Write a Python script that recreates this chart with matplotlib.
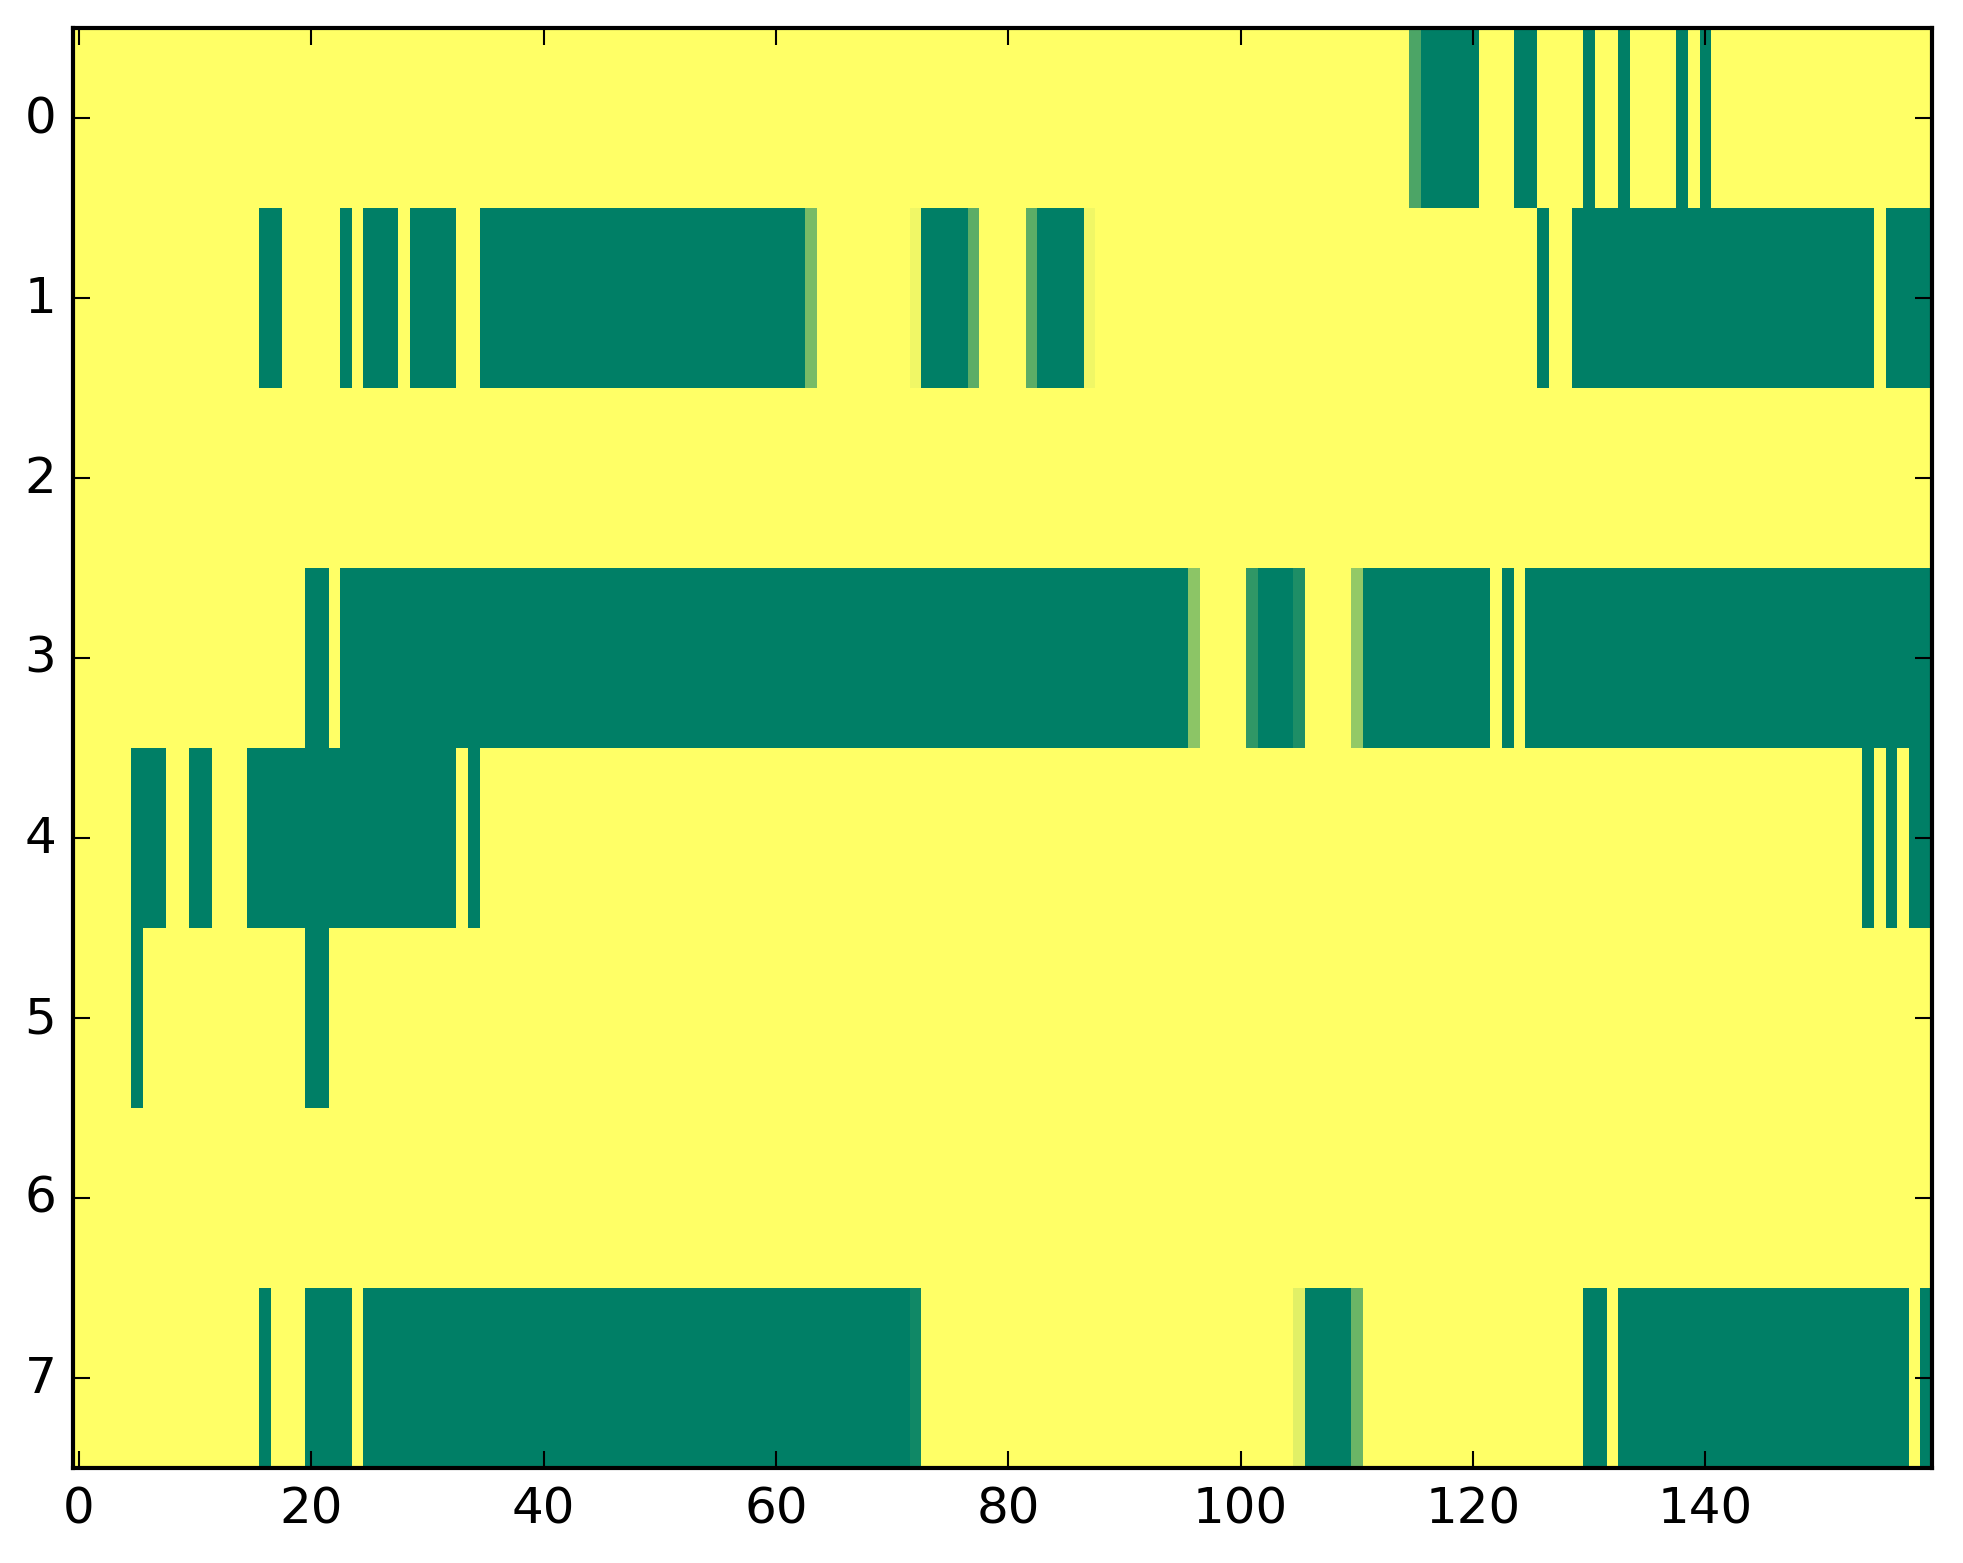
import numpy as np
import matplotlib
matplotlib.use("Agg")
import matplotlib.pyplot as plt

plt.style.use('classic')

n_cols = 160
row_labels = [0, 1, 2, 3, 4, 5, 6, 7]

# runs per row: (first column, last column, value)
row0 = [(115, 115, 0.70), (116, 120, 1.0), (124, 125, 1.0), (130, 130, 1.0),
        (133, 133, 1.0), (138, 138, 1.0), (140, 140, 1.0)]
row1 = [(16, 17, 1.0), (23, 23, 1.0), (25, 27, 1.0), (29, 32, 1.0), (35, 62, 1.0),
        (63, 63, 0.53), (72, 72, 0.06), (73, 76, 1.0), (77, 77, 0.64),
        (82, 82, 0.64), (83, 86, 1.0), (87, 87, 0.06), (126, 126, 1.0),
        (129, 154, 1.0), (156, 159, 1.0)]
row2 = []
row3 = [(20, 21, 1.0), (23, 95, 1.0), (96, 96, 0.45), (101, 101, 0.81),
        (102, 104, 1.0), (105, 105, 0.88), (110, 110, 0.42), (111, 121, 1.0),
        (123, 123, 1.0), (125, 159, 1.0)]
row4 = [(5, 7, 1.0), (10, 11, 1.0), (15, 32, 1.0), (34, 34, 1.0),
        (154, 154, 1.0), (156, 156, 1.0), (158, 159, 1.0)]
row5 = [(5, 5, 1.0), (20, 21, 1.0)]
row6 = []
row7 = [(16, 16, 1.0), (20, 23, 1.0), (25, 71, 1.0), (72, 72, 0.93),
        (105, 105, 0.12), (106, 109, 1.0), (110, 110, 0.58), (130, 131, 1.0),
        (133, 157, 1.0), (159, 159, 1.0)]

rows = [row0, row1, row2, row3, row4, row5, row6, row7]
data = np.zeros((len(rows), n_cols))
for r, runs in enumerate(rows):
    for a, b, v in runs:
        data[r, a:b + 1] = v

fig = plt.figure(figsize=(1963 / 300, 1564 / 300), dpi=300, facecolor='white')
ax = fig.add_axes([73 / 1963, 1 - 1469 / 1564, (1932 - 73) / 1963, (1469 - 29) / 1564])
ax.imshow(data, cmap='summer_r', vmin=0, vmax=1, aspect='auto', interpolation='nearest')
ax.set_yticks(range(len(row_labels)))
ax.set_yticklabels([str(v) for v in row_labels])
ax.set_xticks(range(0, 160, 20))
ax.tick_params(labelsize=12)
fig.savefig('out.png', dpi=300, facecolor='white')
